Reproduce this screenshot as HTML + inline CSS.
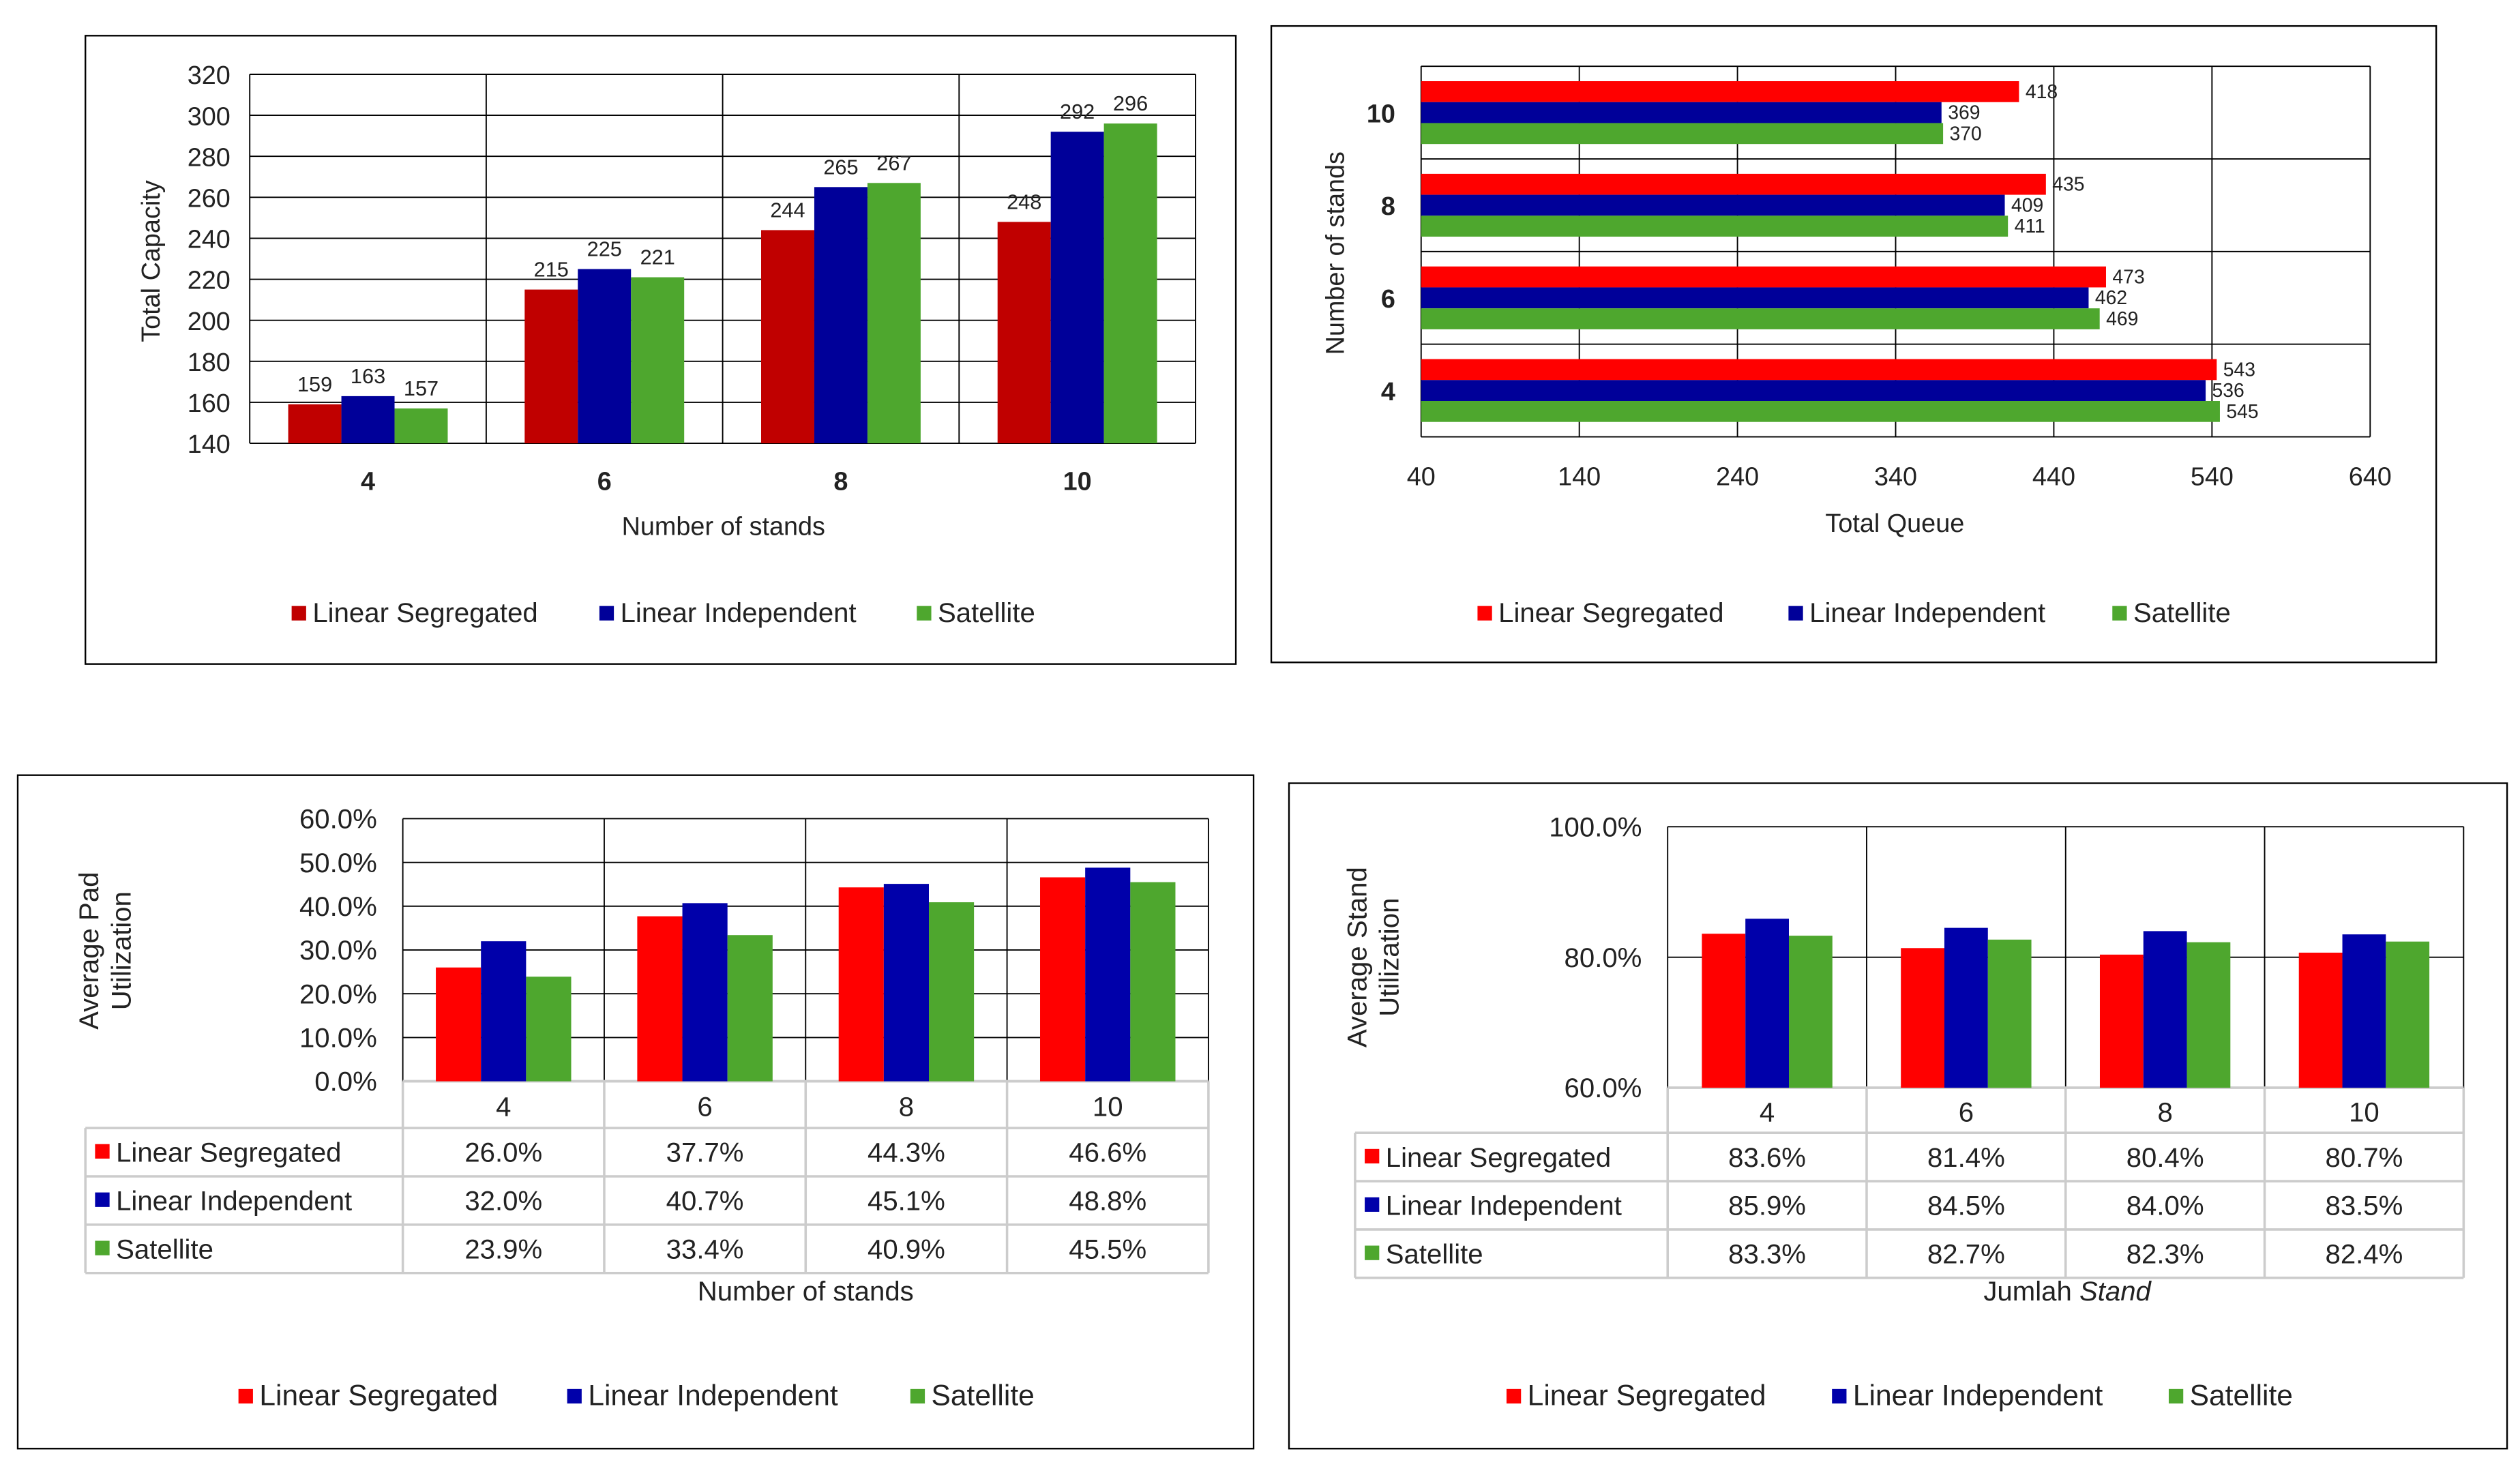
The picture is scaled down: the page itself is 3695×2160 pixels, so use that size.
<!DOCTYPE html>
<html><head><meta charset="utf-8"><style>
html,body{margin:0;padding:0;background:#fff;}
svg{display:block;font-family:"Liberation Sans",Arial,sans-serif;}
</style></head><body>
<svg id="s" width="3695" height="2160" viewBox="0 0 1564 914" xmlns="http://www.w3.org/2000/svg"></svg>
<script>
const stands = ["4","6","8","10"];
const seriesNames = ["Linear Segregated","Linear Independent","Satellite"];
const capSeg = [159,215,244,248];
const capInd = [163,225,265,292];
const capSat = [157,221,267,296];
const capTicks = [140,160,180,200,220,240,260,280,300,320];
const queueSeg = [543,473,435,418];
const queueInd = [536,462,409,369];
const queueSat = [545,469,411,370];
const queueTicks = [40,140,240,340,440,540,640];
const padSeg = [26.0,37.7,44.3,46.6];
const padInd = [32.0,40.7,45.1,48.8];
const padSat = [23.9,33.4,40.9,45.5];
const padTicks = [0,10,20,30,40,50,60];
const standSeg = [83.6,81.4,80.4,80.7];
const standInd = [85.9,84.5,84.0,83.5];
const standSat = [83.3,82.7,82.3,82.4];
const standTicks = [60,80,100];

const S=document.getElementById('s');
function el(tag,attrs,parent,text){const e=document.createElementNS('http://www.w3.org/2000/svg',tag);for(const k in attrs)e.setAttribute(k,attrs[k]);if(text!==undefined)e.textContent=text;(parent||S).appendChild(e);return e;}
function grp(name){const g=el('g',{});return g;}
function txt(p,x,y,t,size,anchor,extra,name){const e=el('text',Object.assign({x:x,y:y,'font-size':size,'text-anchor':anchor||'middle',fill:'#222'},extra||{}),p,t);return e;}
function rect(p,x,y,w,h,fill,name,stroke){const e=el('rect',{x:x,y:y,width:w,height:h,fill:fill,stroke:stroke||'none'},p);return e;}
function line(p,x1,y1,x2,y2,name,col,w){const e=el('line',{x1:x1,y1:y1,x2:x2,y2:y2,stroke:col||'#000','stroke-width':w||1},p);return e;}
function legend(p,y,xs,cols,size){seriesNames.forEach((n,i)=>{const g=el('g',{},p);rect(g,xs[i],y-10,9,9,cols[i],'legend-key');txt(g,xs[i]+13,y,n,size,'start',{},'legend-label');});}

/* Chart 1 */
(function(){
const g=grp('total-capacity-chart');
rect(g,53,22,714,390,'#fff','chart-border','#000');
const x0=155,x1=742,y0=46,y1=275,mn=140,mx=320;
const Y=v=>y1-(v-mn)/(mx-mn)*(y1-y0);
capTicks.forEach(t=>{line(g,x0,Y(t),x1,Y(t),'gridline','#000',0.8);txt(g,x0-12,Y(t)+6,t,16,'end',{},'y-tick-label');});
const cw=(x1-x0)/stands.length;
for(let i=0;i<=stands.length;i++)line(g,x0+i*cw,y0,x0+i*cw,y1,'category-divider','#000',0.8);
const data=[capSeg,capInd,capSat],cols=['#C00000','#000099','#4EA72E'],bw=33;
stands.forEach((c,i)=>{const cx=x0+cw*(i+0.5);
 data.forEach((d,j)=>{const bx=cx-1.5*bw+j*bw;rect(g,bx,Y(d[i]),bw,y1-Y(d[i]),cols[j],'bar-'+j+'-'+c);txt(g,bx+bw/2,Y(d[i])-8,d[i],13,'middle',{},'value-label');});
 txt(g,cx,304,c,16,'middle',{'font-weight':'bold'},'x-tick-label');});
txt(g,449,332,'Number  of stands',16,'middle',{},'x-axis-title');
txt(g,0,0,'Total  Capacity',16,'middle',{transform:'translate(99,162) rotate(-90)'},'y-axis-title');
legend(g,386,[181,372,569],cols,17);
})();

/* Chart 2 */
(function(){
const g=grp('total-queue-chart');
rect(g,789,16,723,395,'#fff','chart-border','#000');
const x0=882,x1=1471,y0=41,y1=271,mn=40,mx=640;
const X=v=>x0+(v-mn)/(mx-mn)*(x1-x0);
queueTicks.forEach(t=>{line(g,X(t),y0,X(t),y1,'gridline','#000',0.8);txt(g,X(t),301,t,16,'middle',{},'x-tick-label');});
const ch=(y1-y0)/stands.length;
for(let i=0;i<=stands.length;i++)line(g,x0,y0+i*ch,x1,y0+i*ch,'category-divider','#000',0.8);
const data=[queueSeg,queueInd,queueSat],cols=['#FF0000','#000099','#4EA72E'],bh=13;
stands.forEach((c,i)=>{const cy=y1-ch*(i+0.5);
 data.forEach((d,j)=>{const by=cy-1.5*bh+j*bh;rect(g,x0,by,X(d[i])-x0,bh,cols[j],'bar-'+j+'-'+c);txt(g,X(d[i])+4,by+bh/2+4,d[i],12,'start',{},'value-label');});
 txt(g,866,cy+6,c,16,'end',{'font-weight':'bold'},'y-tick-label');});
txt(g,1176,330,'Total  Queue',16,'middle',{},'x-axis-title');
txt(g,0,0,'Number  of stands',16,'middle',{transform:'translate(834,157) rotate(-90)'},'y-axis-title');
legend(g,386,[917,1110,1311],cols,17);
})();

/* Table charts */
function tableChart(o){
const g=grp(o.name);
rect(g,o.bx,o.by,o.bw,o.bh,'#fff','chart-border','#000');
const Y=v=>o.y1-(v-o.mn)/(o.mx-o.mn)*(o.y1-o.y0);
o.ticks.forEach(t=>{line(g,o.x0,Y(t),o.x1,Y(t),'gridline','#000',0.8);txt(g,o.x0-16,Y(t)+6,t.toFixed(1)+'%',17,'end',{},'y-tick-label');});
const cw=(o.x1-o.x0)/stands.length;
for(let i=0;i<=stands.length;i++)line(g,o.x0+i*cw,o.y0,o.x0+i*cw,o.y1,'category-divider','#000',0.8);
const cols=['#FF0000','#0000AA','#4EA72E'],bw=o.barW;
// table
const rh=o.rowH, ty=o.y1;
const tg=grp('data-table');g.appendChild(tg);
line(tg,o.x0,ty,o.x1,ty,'table-line','#ccc',1.5);
for(let r=0;r<=4;r++){const yy=ty+r*rh+(r>0?o.headH-rh:0);}
const rowsY=[ty,ty+o.headH,ty+o.headH+rh,ty+o.headH+2*rh,ty+o.headH+3*rh];
rowsY.forEach((yy,r)=>line(tg,r===0?o.x0:o.tx,yy,o.x1,yy,'table-line','#ccc',1.5));
line(tg,o.tx,rowsY[1],o.tx,rowsY[4],'table-line','#ccc',1.5);
for(let i=0;i<=stands.length;i++)line(tg,o.x0+i*cw,ty,o.x0+i*cw,rowsY[4],'table-line','#ccc',1.5);
stands.forEach((c,i)=>{const cx=o.x0+cw*(i+0.5);
 o.data.forEach((d,j)=>{const bx=cx-1.5*bw+j*bw;rect(g,bx,Y(d[i]),bw,o.y1-Y(d[i]),cols[j],'bar-'+j+'-'+c);
   txt(tg,cx,rowsY[j+1]+rh/2+6,d[i].toFixed(1)+'%',17,'middle',{},'table-cell');});
 txt(tg,cx,ty+o.headH/2+7,c,17,'middle',{},'x-tick-label');});
seriesNames.forEach((n,j)=>{const yy=rowsY[j+1]+rh/2;rect(tg,o.tx+6,yy-5,9,9,cols[j],'table-legend-key');txt(tg,o.tx+19,yy+6,n,17,'start',{},'table-row-label');});
const t=txt(g,o.titleX,807,'',17,'middle',{},'x-axis-title');
o.title.forEach(p=>{const sp=el('tspan',p[1]?{'font-style':'italic'}:{},t,p[0]);});
txt(g,0,0,o.ytitle[0],17,'middle',{transform:'translate('+o.ytx+','+o.yty+') rotate(-90)'},'y-axis-title');
txt(g,0,0,o.ytitle[1],17,'middle',{transform:'translate('+(o.ytx+20)+','+o.yty+') rotate(-90)'},'y-axis-title');
legend(g,872,o.legX,cols,18);
}
tableChart({name:'average-pad-utilization-chart',bx:11,by:481,bw:767,bh:418,x0:250,x1:750,y0:508,y1:671,mn:0,mx:60,ticks:padTicks,barW:28,rowH:30,headH:29,tx:53,
 data:[padSeg,padInd,padSat],title:[['Number  of stands',false]],titleX:500,ytitle:['Average  Pad','Utilization'],ytx:61,yty:590,legX:[148,352,565]});
tableChart({name:'average-stand-utilization-chart',bx:800,by:486,bw:756,bh:413,x0:1035,x1:1529,y0:513,y1:675,mn:60,mx:100,ticks:standTicks,barW:27,rowH:30,headH:28,tx:841,
 data:[standSeg,standInd,standSat],title:[['Jumlah ',false],['Stand',true]],titleX:1283,ytitle:['Average  Stand','Utilization'],ytx:848,yty:594,legX:[935,1137,1346]});
</script>
</body></html>
